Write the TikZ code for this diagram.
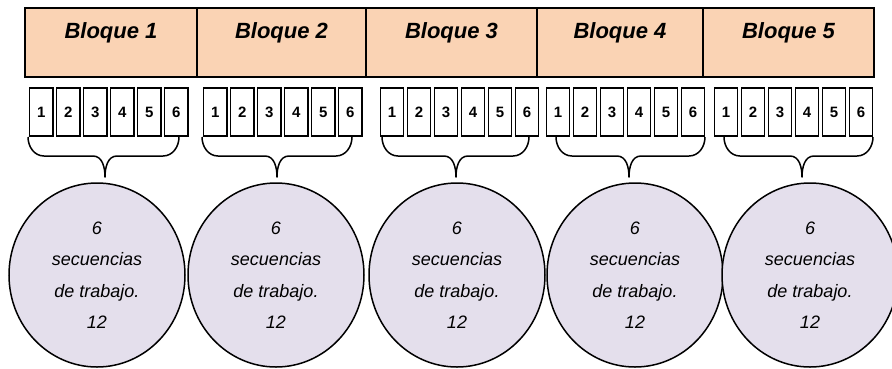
\documentclass[tikz,border=0pt]{standalone}
\usepackage{fontspec}
\setmainfont{Liberation Sans}
\usetikzlibrary{shapes.geometric}
\definecolor{peach}{HTML}{FAD3B4}
\definecolor{lav}{HTML}{E4DFEC}
\begin{document}
\begin{tikzpicture}[x=1pt,y=-1pt,
  hdr/.style={draw, fill=peach, line width=1.5pt, minimum height=69pt, inner sep=0pt},
  hdrtxt/.style={font=\bfseries\itshape\fontsize{22}{22}\selectfont, inner sep=0pt},
  cell/.style={draw, line width=1.2pt, minimum width=23.5pt, minimum height=48pt, inner sep=0pt,
    font=\bfseries\fontsize{15}{15}\selectfont},
  circ/.style={draw, fill=lav, ellipse, line width=1.5pt, minimum width=176pt, minimum height=184pt,
    inner sep=0pt, align=center, font=\itshape\fontsize{18}{31.5}\selectfont},
  bracepath/.style={draw, line width=1.5pt, line join=round}
]
\useasboundingbox (0,0) rectangle (892,368);
% header
\foreach \g/\cx/\w in {1/111/172, 2/281.5/169, 3/451.5/171, 4/620/166, 5/788.5/171}{
  \node[hdr, minimum width=\w pt] (h\g) at (\cx,42.5) {};
  \node[hdrtxt] (t\g) at (\cx,33) {Bloque \g};
}
% cells
\foreach \g/\s in {1/29.3, 2/203.3, 3/380, 4/546, 5/714}{
  \foreach \j in {1,...,6}{
    \node[cell] (c\g-\j) at ({\s+12+27*(\j-1)},112) {\j};
  }
}
% circles
\foreach \g/\x in {1/97, 2/276, 3/457, 4/635, 5/810}{
  \node[circ] (e\g) at (\x,275) {6\\secuencias\\de trabajo.\\12};
}
% braces
\foreach \g/\l/\t/\r in {1/28/105/179, 2/202/277/352, 3/382/456/529, 4/556/629/705, 5/724/802/873}{
  \coordinate (bl\g) at (\l,137);
  \coordinate (br\g) at (\r,137);
  \coordinate (bt\g) at (\t,177);
  \path[bracepath] (bl\g) to[out=-90,in=180] ({\l+16},156) -- ({\t-12},156)
    to[out=0,in=90] (bt\g) to[out=90,in=180] ({\t+12},156) -- ({\r-16},156)
    to[out=0,in=-90] (br\g);
}
\end{tikzpicture}
\end{document}
